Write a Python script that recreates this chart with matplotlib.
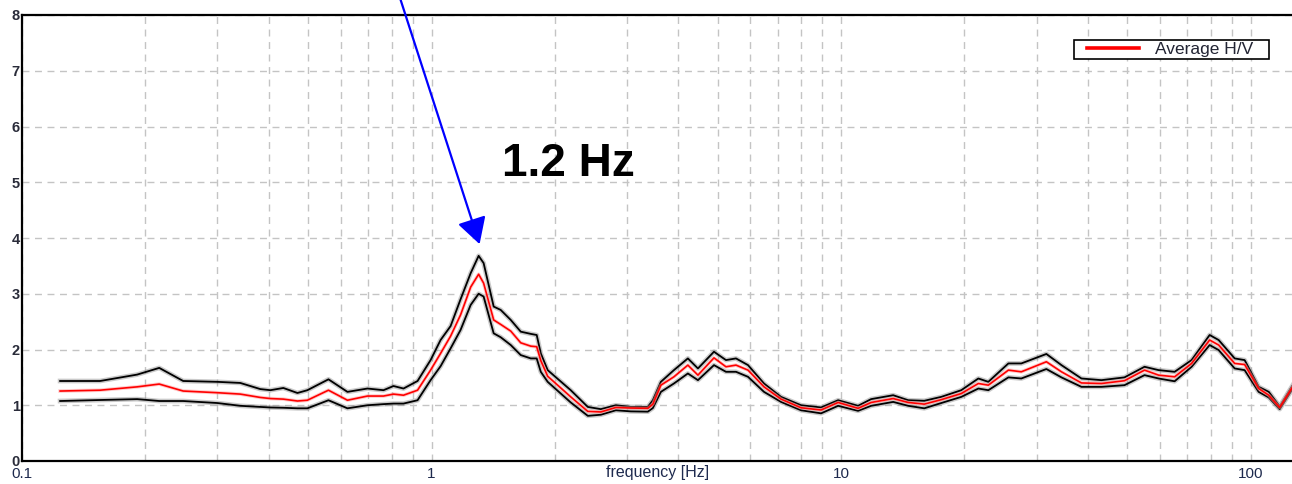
import matplotlib
matplotlib.use("Agg")
import matplotlib.pyplot as plt
from matplotlib.patches import ArrowStyle, Rectangle
from matplotlib.lines import Line2D

plt.rcParams['font.family'] = ['Liberation Sans', 'DejaVu Sans']

# ---- data ----
freq = [0.1239, 0.1551, 0.1911, 0.2163, 0.2475, 0.2998, 0.3412, 0.3818, 0.4041, 0.4346,
        0.4704, 0.4975, 0.5601, 0.6232, 0.6975, 0.7632, 0.8073, 0.8541, 0.9243, 0.9945,
        1.052, 1.113, 1.177, 1.246, 1.303, 1.340, 1.418, 1.475, 1.561, 1.651,
        1.747, 1.806, 1.848, 1.921, 2.187, 2.407, 2.590, 2.818, 3.066, 3.374,
        3.470, 3.630, 3.906, 4.225, 4.471, 4.893, 5.234, 5.538, 5.925, 6.482,
        7.134, 7.983, 8.935, 9.833, 11.00, 11.84, 13.40, 14.58, 15.96, 17.56,
        19.65, 21.63, 22.88, 25.61, 27.54, 31.71, 34.51, 38.62, 43.22, 49.19,
        55.06, 59.60, 65.21, 71.74, 79.40, 83.52, 91.40, 96.67, 104.6, 110.7,
        117.7, 127.4]

hv_upper = [1.435, 1.435, 1.55, 1.67, 1.435, 1.42, 1.40, 1.29, 1.27, 1.31,
            1.22, 1.27, 1.465, 1.24, 1.30, 1.27, 1.345, 1.30, 1.435, 1.81,
            2.17, 2.42, 2.90, 3.37, 3.68, 3.55, 2.77, 2.71, 2.53, 2.32,
            2.28, 2.26, 1.93, 1.63, 1.27, 0.97, 0.93, 1.00, 0.97, 0.97,
            1.09, 1.42, 1.63, 1.84, 1.66, 1.96, 1.81, 1.84, 1.72, 1.39,
            1.15, 1.00, 0.96, 1.09, 0.99, 1.11, 1.18, 1.09, 1.08, 1.15,
            1.27, 1.48, 1.42, 1.75, 1.75, 1.92, 1.72, 1.48, 1.45, 1.50,
            1.69, 1.63, 1.60, 1.81, 2.26, 2.17, 1.84, 1.81, 1.33, 1.24,
            0.98, 1.39]

hv_mean = [1.255, 1.27, 1.33, 1.38, 1.255, 1.225, 1.20, 1.14, 1.12, 1.11,
           1.076, 1.09, 1.27, 1.09, 1.165, 1.165, 1.20, 1.18, 1.27, 1.63,
           1.93, 2.24, 2.62, 3.12, 3.35, 3.19, 2.53, 2.45, 2.33, 2.12,
           2.06, 2.05, 1.80, 1.52, 1.15, 0.89, 0.88, 0.96, 0.95, 0.945,
           1.02, 1.36, 1.51, 1.72, 1.54, 1.85, 1.69, 1.72, 1.63, 1.33,
           1.11, 0.955, 0.915, 1.05, 0.945, 1.05, 1.12, 1.05, 1.02, 1.10,
           1.21, 1.39, 1.36, 1.63, 1.60, 1.78, 1.60, 1.40, 1.39, 1.44,
           1.63, 1.54, 1.51, 1.75, 2.17, 2.08, 1.75, 1.73, 1.30, 1.18,
           0.96, 1.36]

hv_lower = [1.076, 1.094, 1.11, 1.076, 1.076, 1.04, 0.99, 0.97, 0.96, 0.955,
            0.945, 0.945, 1.09, 0.945, 1.00, 1.02, 1.03, 1.03, 1.09, 1.45,
            1.70, 2.02, 2.35, 2.80, 3.00, 2.95, 2.29, 2.22, 2.08, 1.90,
            1.84, 1.84, 1.60, 1.42, 1.05, 0.81, 0.83, 0.91, 0.89, 0.885,
            0.95, 1.24, 1.39, 1.57, 1.45, 1.72, 1.60, 1.60, 1.51, 1.24,
            1.06, 0.91, 0.855, 0.99, 0.90, 0.99, 1.06, 0.99, 0.945, 1.04,
            1.15, 1.30, 1.27, 1.50, 1.48, 1.65, 1.50, 1.33, 1.33, 1.36,
            1.54, 1.48, 1.43, 1.69, 2.08, 1.99, 1.66, 1.63, 1.24, 1.14,
            0.93, 1.33]

x_ticks = [0.1, 1, 10, 100]
x_tick_labels = ["0.1", "1", "10", "100"]
y_ticks = [0, 1, 2, 3, 4, 5, 6, 7, 8]
peak_freq = 1.31
peak_value = 3.89
peak_label = "1.2 Hz"

# ---- figure ----
W, H = 1292, 484
AX_L, AX_B, AX_W, AX_H = 22, 23, W - 22, 446   # pixels
fig = plt.figure(figsize=(W / 100, H / 100), dpi=100)
ax = fig.add_axes([AX_L / W, AX_B / H, AX_W / W + 0.002, AX_H / H])

ax.set_xscale('log')
ax.set_xlim(0.1, 128)
ax.set_ylim(0, 8)

grid_kw = dict(color='#c4c4c4', linestyle=(0, (5, 4)), linewidth=1.0)
ax.set_xticks(x_ticks)
ax.set_xticks([m * d for d in (0.1, 1, 10) for m in range(2, 10)], minor=True)
ax.set_yticks(y_ticks)
ax.grid(True, which='major', **grid_kw)
ax.grid(True, which='minor', axis='x', **grid_kw)
ax.set_axisbelow(True)

ax.set_xticklabels(x_tick_labels, fontsize=11, color='#1e2a4e')
ax.set_yticklabels([str(v) for v in y_ticks], fontsize=10.5, fontweight='bold', color='#2a2c3a')
ax.tick_params(axis='both', which='both', length=0)
ax.tick_params(axis='x', pad=4)
ax.tick_params(axis='y', pad=1.5)

for s in ('left', 'top', 'bottom'):
    ax.spines[s].set_linewidth(1.6)
    ax.spines[s].set_color('black')
ax.spines['right'].set_visible(False)

# halo + lines
for series in (hv_upper, hv_lower):
    ax.plot(freq, series, color='#8a8a8a', linewidth=3.4, alpha=0.45, solid_joinstyle='round')
    ax.plot(freq, series, color='black', linewidth=1.3)
ax.plot(freq, hv_mean, color='#ff9a9a', linewidth=2.6, alpha=0.5)
ax.plot(freq, hv_mean, color='#ff0000', linewidth=1.2, label='Average H/V')

# x label sits on the tick label row
ax.text((656 - AX_L) / AX_W, -11 / AX_H, 'frequency [Hz]', transform=ax.transAxes,
        fontsize=11.5, color='#1e2a4e', ha='center', va='center')

# legend (frame drawn separately to match the reference box padding)
leg_handle = Line2D([], [], color='#ff0000', linewidth=2.6)
leg = ax.legend([leg_handle], ['Average H/V'], loc='center left',
                bbox_to_anchor=((1085 - AX_L) / AX_W, (461 - 49.5) / AX_H),
                frameon=False, fontsize=12.5,
                handlelength=3.0, handletextpad=0.9, borderpad=0,
                borderaxespad=0, labelcolor='#222433')
frame = Rectangle(((1072 - AX_L) / AX_W, (461 - 59) / AX_H),
                  (1266 - 1072) / AX_W, 19 / AX_H, transform=ax.transAxes,
                  facecolor='white', edgecolor='black', linewidth=1.2, zorder=4.5)
ax.add_patch(frame)
leg.set_zorder(5)

# annotation arrow
ax.annotate('', xy=(peak_freq, peak_value), xycoords='data',
            xytext=(400, H + 2), textcoords='figure pixels',
            annotation_clip=False,
            arrowprops=dict(arrowstyle=ArrowStyle('-|>', head_length=1.6, head_width=0.9),
                            mutation_scale=10, color='#0000ff', linewidth=1.6,
                            shrinkA=0, shrinkB=0))
fig.text(568 / W, 1 - 164 / H, peak_label, fontsize=33, fontweight='bold',
         color='black', ha='center', va='center')

fig.savefig('out.png', dpi=100)
